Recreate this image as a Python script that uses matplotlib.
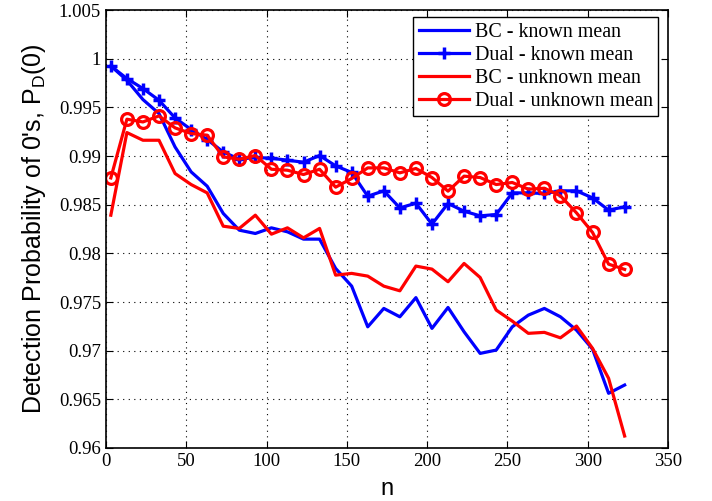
import numpy as np
import matplotlib
matplotlib.use('Agg')
import matplotlib.pyplot as plt

# sample sizes
n = np.arange(3, 324, 10)

bc_known = [0.99925, 0.99778, 0.9958, 0.99436, 0.99093, 0.98837, 0.9869, 0.9841,
            0.98238, 0.98204, 0.98262, 0.98221, 0.98146, 0.98146, 0.97845, 0.97663,
            0.97245, 0.97434, 0.97348, 0.97545, 0.97229, 0.97444, 0.97194, 0.96972,
            0.97006, 0.97245, 0.97365, 0.97434, 0.97348, 0.97211, 0.97016, 0.96562,
            0.96647]
dual_known = [0.99925, 0.99796, 0.99693, 0.99573, 0.99391, 0.99272, 0.99169, 0.99042,
              0.98967, 0.98985, 0.98977, 0.98957, 0.98936, 0.99005, 0.98899, 0.98831,
              0.98587, 0.98642, 0.98467, 0.98515, 0.9830, 0.98512, 0.98433, 0.98385,
              0.98399, 0.98621, 0.98621, 0.98615, 0.98642, 0.98642, 0.98570, 0.98444,
              0.98478]
bc_unknown = [0.98392, 0.99241, 0.99162, 0.99162, 0.98820, 0.98707, 0.98621, 0.98279,
              0.98256, 0.98392, 0.98197, 0.98262, 0.98159, 0.98256, 0.97776, 0.97794,
              0.97766, 0.97663, 0.97615, 0.97869, 0.97838, 0.97708, 0.97896, 0.97752,
              0.97417, 0.97304, 0.97178, 0.97188, 0.97132, 0.97253, 0.97024, 0.96716,
              0.96123]
dual_unknown = [0.98775, 0.99378, 0.99350, 0.99412, 0.99289, 0.99231, 0.99214, 0.98991,
                0.98967, 0.99005, 0.98864, 0.98854, 0.98810, 0.98864, 0.98680, 0.98769,
                0.98878, 0.98878, 0.98827, 0.98872, 0.98779, 0.98639, 0.98793, 0.98779,
                0.98707, 0.98728, 0.98659, 0.98669, 0.98591, 0.98416, 0.98215, 0.97889,
                0.97835]

serif = ['Liberation Serif', 'DejaVu Serif']
sans = ['Liberation Sans', 'DejaVu Sans']
plt.rcParams['mathtext.fontset'] = 'custom'
plt.rcParams['mathtext.rm'] = 'Liberation Sans'

fig = plt.figure(figsize=(7.12, 5.01), dpi=100)
ax = fig.add_axes([0.1489, 0.1058, 0.7893, 0.8742])

lw = 2.3
ax.plot(n, bc_known, color='b', lw=lw, label='BC - known mean')
ax.plot(n, dual_known, color='b', lw=lw, marker='+', ms=9, mew=2.5,
        label='Dual - known mean')
ax.plot(n, bc_unknown, color='r', lw=lw, label='BC - unknown mean')
ax.plot(n, dual_unknown, color='r', lw=lw, marker='o', ms=8.5, mew=2.3,
        mfc='none', label='Dual - unknown mean')

ax.set_xlim(0, 350)
ax.set_ylim(0.96, 1.005)
ax.set_xticks(np.arange(0, 351, 50))
yt = np.arange(0.96, 1.0051, 0.005)
ax.set_yticks(yt)
ax.set_yticklabels(['%g' % round(v, 3) for v in yt])

ax.grid(True, color='k', linestyle=(0, (1, 4)), linewidth=0.8)
ax.tick_params(direction='in', top=True, right=True, length=5, labelsize=13.5)
for lab in ax.get_xticklabels() + ax.get_yticklabels():
    lab.set_family(serif)
for s in ax.spines.values():
    s.set_linewidth(1.2)

ax.set_xlabel('n', family=sans, fontsize=17, labelpad=6)
ax.set_ylabel("Detection Probability of 0's, P$_\\mathrm{D}$(0)", family=sans,
              fontsize=18, labelpad=8)

leg = ax.legend(loc='upper right', bbox_to_anchor=(0.99, 0.993), prop={'family': serif, 'size': 14.4},
                fancybox=False, framealpha=1, edgecolor='k', handlelength=2.5,
                borderpad=0.28, labelspacing=0.2, handletextpad=0.3,
                borderaxespad=0.2)
leg.get_frame().set_linewidth(1.0)

fig.savefig('out.png', dpi=100)
